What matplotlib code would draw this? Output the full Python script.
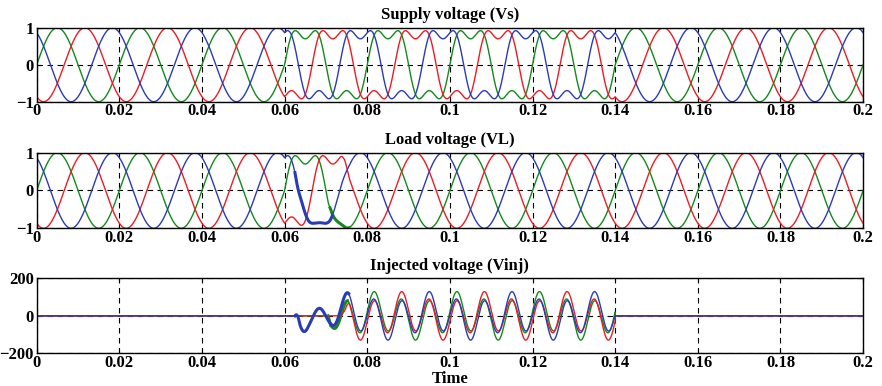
import numpy as np
import matplotlib.pyplot as plt

plt.rcParams['font.family'] = ['Liberation Serif', 'DejaVu Serif']
plt.rcParams['font.weight'] = 'bold'

# system values
f0 = 50.0                       # Hz
t_end = 0.2
phase_shift_deg = [0, -120, 120]            # phase a, b, c
line_colors = ['#14891c', '#ec1c24', '#2a3cb4']   # green, red, blue

harm_order = 3
harm_frac = 0.3                 # 3rd harmonic in the supply (pu)
harm_on, harm_off = 0.06, 0.14

inj_peak = 100.0                # injected 3rd harmonic peak (V)
inj_fund = 30.0                 # fundamental ripple riding on it (V)
inj_fund_lead_deg = 50

# DVR pick-up schedule per phase (time, gain) while the controller settles
ctrl_times = [
    [0.0705, 0.0711, 0.0714, 0.0752],
    [0.0735, 0.0743, 0.0745, 0.0757],
    [0.0625, 0.0637, 0.0660, 0.0710, 0.0755],
]
ctrl_gains = [
    [0.0, 0.45, 0.45, 1.0],
    [0.0, 0.3, 0.3, 1.0],
    [0.0, 0.8, 0.5, 0.5, 1.0],
]

# windows where the trace is drawn thick (switching ripple)
thick_inj = {0: (0.0705, 0.0752), 2: (0.0625, 0.0755)}
thick_load = {0: (0.0710, 0.0755), 2: (0.0625, 0.0715)}

titles = ['Supply voltage (Vs)', 'Load voltage (VL)', 'Injected voltage (Vinj)']
xticks = [0, 0.02, 0.04, 0.06, 0.08, 0.1, 0.12, 0.14, 0.16, 0.18, 0.2]
xticklabels = ['0', '0.02', '0.04', '0.06', '0.08', '0.1', '0.12', '0.14', '0.16', '0.18', '0.2']

t = np.linspace(0, t_end, 8001)
th = 2 * np.pi * f0 * t
harm = np.sin(harm_order * th) * ((t >= harm_on) & (t < harm_off))

supply, load, inj = [], [], []
for k in range(3):
    ph = np.deg2rad(phase_shift_deg[k])
    g = np.interp(t, ctrl_times[k], ctrl_gains[k])
    g = g * (t >= ctrl_times[k][0]) * (t < harm_off)
    vs = np.sin(th + ph) + harm_frac * harm
    supply.append(vs)
    load.append(vs - g * harm_frac * harm)
    inj.append(g * (inj_peak * harm +
                    inj_fund * np.sin(th + ph + np.deg2rad(inj_fund_lead_deg))))

fig = plt.figure(figsize=(8.82, 3.86), dpi=100)
left, width = 0.0416, 0.937
ax1 = fig.add_axes([left, 0.7365, width, 0.1917])
ax2 = fig.add_axes([left, 0.4085, width, 0.196])
ax3 = fig.add_axes([left, 0.0847, width, 0.194])

for ax, data, thick in [(ax1, supply, {}), (ax2, load, thick_load), (ax3, inj, thick_inj)]:
    for k in range(3):
        ax.plot(t, data[k], color=line_colors[k], lw=1.0)
        if k in thick:
            m = (t >= thick[k][0]) & (t <= thick[k][1])
            ax.plot(t[m], data[k][m], color=line_colors[k], lw=2.2)

for i, ax in enumerate([ax1, ax2, ax3]):
    ax.set_xlim(0, t_end)
    ax.set_xticks(xticks)
    ax.set_xticklabels(xticklabels)
    if i < 2:
        ax.set_ylim(-1, 1)
        ax.set_yticks([-1, 0, 1])
    else:
        ax.set_ylim(-200, 200)
        ax.set_yticks([-200, 0, 200])
    ax.grid(True, color='black', ls=(0, (5, 4)), lw=0.8)
    ax.tick_params(direction='in', top=True, right=True, length=3, labelsize=12)
    ax.tick_params(axis='x', pad=1)
    ax.tick_params(axis='y', pad=2)
    for s in ax.spines.values():
        s.set_linewidth(1.0)
    ax.set_title(titles[i], fontsize=12, fontweight='bold', pad=6)

ax3.set_xlabel('Time', fontsize=12, fontweight='bold', labelpad=0)

fig.savefig('out.png', dpi=100)
